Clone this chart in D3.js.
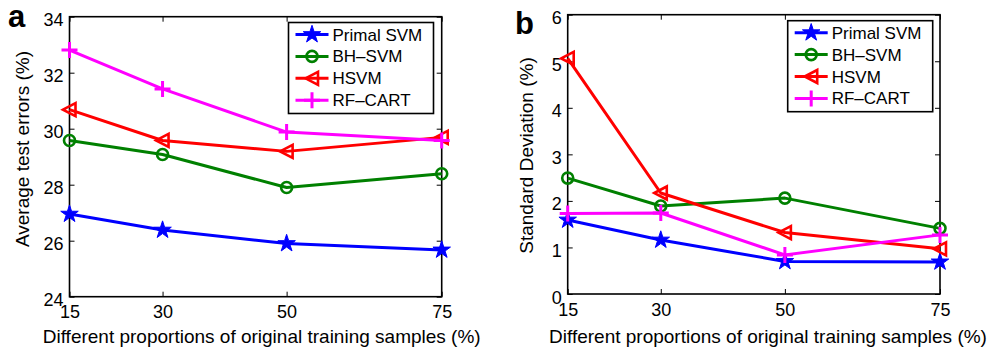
<!DOCTYPE html>
<html>
<head>
<meta charset="utf-8">
<script src="https://cdn.jsdelivr.net/npm/d3@7"></script>
<style>
  body { margin: 0; background: #fff; }
  svg { display: block; font-family: "Liberation Sans", Arial, Helvetica, sans-serif; }
</style>
</head>
<body>
<svg id="chart" width="990" height="352"></svg>
<script>
// proportions of original training samples (%)
const proportions = [15, 30, 50, 75];
const seriesNames = ['Primal SVM', 'BH\u2013SVM', 'HSVM', 'RF\u2013CART'];

// panel a: average test errors (%)
const errPrimal = [26.95, 26.38, 25.9, 25.67];
const errBH = [29.58, 29.08, 27.9, 28.39];
const errHSVM = [30.68, 29.58, 29.19, 29.69];
const errRF = [32.81, 31.42, 29.88, 29.58];
const errTicks = [24, 26, 28, 30, 32, 34];

// panel b: standard deviation (%)
const sdPrimal = [1.59, 1.16, 0.7, 0.69];
const sdBH = [2.49, 1.89, 2.06, 1.41];
const sdHSVM = [5.06, 2.17, 1.32, 0.97];
const sdRF = [1.73, 1.74, 0.84, 1.27];
const sdTicks = [0, 1, 2, 3, 4, 5, 6];

const colors = ['#0000ff', '#008000', '#ff0000', '#ff00ff'];
const markers = ['star', 'circle', 'triangle', 'plus'];

const svg = d3.select('#chart');

function drawMarker(g, type, color) {
  if (type === 'star') {
    g.append('path')
      .attr('d', d3.symbol(d3.symbolStar, 95)())
      .attr('fill', color).attr('stroke', color).attr('stroke-width', 1);
  } else if (type === 'circle') {
    g.append('circle').attr('r', 5.5)
      .attr('fill', 'none').attr('stroke', color).attr('stroke-width', 2.6);
  } else if (type === 'triangle') {
    g.append('path').attr('d', 'M-6.5,0L6,-6.5L6,6.5Z')
      .attr('fill', 'none').attr('stroke', color).attr('stroke-width', 2.6)
      .attr('stroke-linejoin', 'miter');
  } else {
    g.append('path').attr('d', 'M-8,0H8M0,-8V8')
      .attr('fill', 'none').attr('stroke', color).attr('stroke-width', 3);
  }
}

function drawPanel(p) {
  const x = d3.scaleLinear().domain([15, 75]).range([p.left, p.right]);
  const y = d3.scaleLinear().domain(p.yDomain).range([p.bottom, p.top]);
  const g = svg.append('g');

  // ticks (inward, on all four sides)
  const axisStyle = sel => {
    sel.select('.domain').remove();
    sel.selectAll('line').attr('stroke', '#000').attr('stroke-width', 1);
    sel.selectAll('text').attr('fill', '#000').style('font-size', '18px')
      .style('font-family', '"Liberation Sans", Arial, sans-serif');
  };
  g.append('g').attr('transform', `translate(0,${p.bottom})`)
    .call(d3.axisBottom(x).tickValues(proportions).tickSize(-5).tickPadding(9).tickFormat(d3.format('d')))
    .call(axisStyle);
  g.append('g').attr('transform', `translate(0,${p.top})`)
    .call(d3.axisTop(x).tickValues(proportions).tickSize(-5).tickFormat(''))
    .call(axisStyle);
  g.append('g').attr('transform', `translate(${p.left},0)`)
    .call(d3.axisLeft(y).tickValues(p.ticks).tickSize(-5).tickPadding(6).tickFormat(d3.format('d')))
    .call(axisStyle)
    .selectAll('text').attr('dy', '0.5em');
  g.append('g').attr('transform', `translate(${p.right},0)`)
    .call(d3.axisRight(y).tickValues(p.ticks).tickSize(-5).tickFormat(''))
    .call(axisStyle);

  // frame
  g.append('rect')
    .attr('x', p.left).attr('y', p.top)
    .attr('width', p.right - p.left).attr('height', p.bottom - p.top)
    .attr('fill', 'none').attr('stroke', '#000').attr('stroke-width', 1.6);

  // lines + markers
  const line = d3.line().x((d, i) => x(proportions[i])).y(d => y(d));
  p.series.forEach((vals, k) => {
    g.append('path').datum(vals).attr('d', line)
      .attr('fill', 'none').attr('stroke', colors[k]).attr('stroke-width', 3)
      .attr('stroke-linejoin', 'round');
    vals.forEach((v, i) => {
      const m = g.append('g').attr('transform', `translate(${x(proportions[i])},${y(v)})`);
      drawMarker(m, markers[k], colors[k]);
    });
  });

  // axis labels
  g.append('text')
    .attr('x', p.xLabelX).attr('y', 343)
    .attr('text-anchor', 'middle').style('font-size', '19px')
    .text('Different proportions of original training samples (%)');
  g.append('text')
    .attr('transform', `translate(${p.yLabelX},${p.yLabelY}) rotate(-90)`)
    .attr('text-anchor', 'middle').style('font-size', '19px')
    .text(p.yLabel);

  // panel letter
  g.append('text')
    .attr('x', p.letterX).attr('y', p.letterY)
    .style('font-size', '31px').style('font-weight', 'bold')
    .text(p.letter);

  // legend
  const lg = g.append('g');
  lg.append('rect')
    .attr('x', p.legend[0]).attr('y', p.legend[1])
    .attr('width', 145).attr('height', 91)
    .attr('fill', '#fff').attr('stroke', '#000').attr('stroke-width', 1.6);
  seriesNames.forEach((name, k) => {
    const cy = p.legend[1] + 12 + k * 21.9;
    const x0 = p.legend[0] + 7;
    lg.append('line').attr('x1', x0).attr('x2', x0 + 33).attr('y1', cy).attr('y2', cy)
      .attr('stroke', colors[k]).attr('stroke-width', 3);
    const m = lg.append('g').attr('transform', `translate(${x0 + 16.5},${cy})`);
    drawMarker(m, markers[k], colors[k]);
    lg.append('text').attr('x', x0 + 37).attr('y', cy + 6)
      .style('font-size', '17px').text(name);
  });
}

drawPanel({
  left: 69.5, right: 441.7, top: 16.7, bottom: 296.7,
  yDomain: [24, 34], ticks: errTicks,
  series: [errPrimal, errBH, errHSVM, errRF],
  yLabel: 'Average test errors (%)', yLabelX: 29, yLabelY: 149,
  xLabelX: 261.7,
  letter: 'a', letterX: 8, letterY: 26.5,
  legend: [288.5, 22.5]
});

drawPanel({
  left: 567.7, right: 940, top: 14.7, bottom: 294,
  yDomain: [0, 6], ticks: sdTicks,
  series: [sdPrimal, sdBH, sdHSVM, sdRF],
  yLabel: 'Standard Deviation (%)', yLabelX: 533, yLabelY: 155.5,
  xLabelX: 768,
  letter: 'b', letterX: 515, letterY: 34,
  legend: [787.7, 20.7]
});
</script>
</body>
</html>
